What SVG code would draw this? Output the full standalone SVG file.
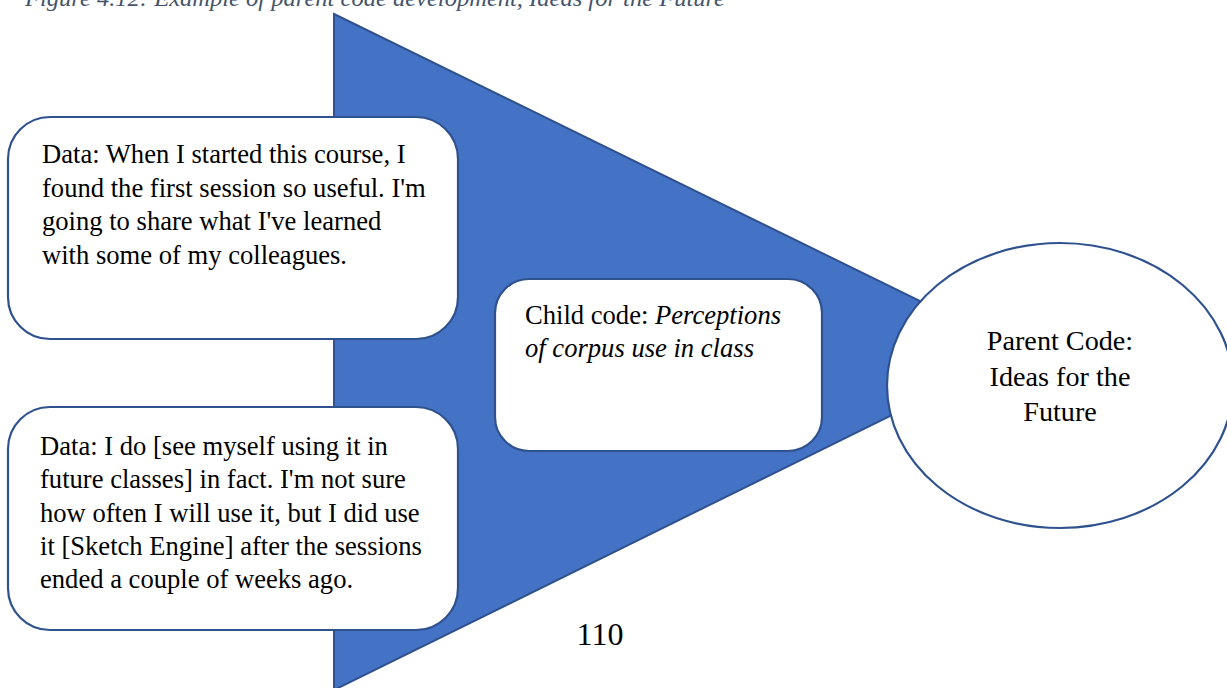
<svg xmlns="http://www.w3.org/2000/svg" width="1227" height="688" viewBox="0 0 1227 688">
<style>
.shape{fill:#4472C4;stroke:#2F528F;stroke-width:2}
.box{fill:#FFFFFF;stroke:#2F528F;stroke-width:2.2}
.txt{font-size:26.6px;fill:#000000}
.ptxt{font-size:28.2px;fill:#000000}
.cap{font-size:24px;font-style:italic;fill:#44546A}
</style>
<rect width="1227" height="688" fill="#FFFFFF"/>
<g font-family="'Liberation Serif', 'Times New Roman', serif">
<text class="cap" x="25" y="6" textLength="700" lengthAdjust="spacingAndGlyphs">Figure 4.12: Example of parent code development, Ideas for the Future</text>
<g id="triangle"><polygon class="shape" points="334,14 1022,351 334,690"/></g>
<g id="data1">
<rect class="box" x="8" y="117" width="450" height="222" rx="42" ry="42"/>
<text class="txt" x="42" y="163">Data: When I started this course, I</text>
<text class="txt" x="42" y="196.5">found the first session so useful. I'm</text>
<text class="txt" x="42" y="230">going to share what I've learned</text>
<text class="txt" x="42" y="263.5">with some of my colleagues.</text>
</g>
<g id="data2">
<rect class="box" x="8" y="407" width="450" height="223" rx="42" ry="42"/>
<text class="txt" x="40" y="455">Data: I do [see myself using it in</text>
<text class="txt" x="40" y="488">future classes] in fact. I'm not sure</text>
<text class="txt" x="40" y="521.5">how often I will use it, but I did use</text>
<text class="txt" x="40" y="555">it [Sketch Engine] after the sessions</text>
<text class="txt" x="40" y="588">ended a couple of weeks ago.</text>
</g>
<g id="child">
<rect class="box" x="495" y="279" width="327" height="172" rx="34" ry="34"/>
<text class="txt" x="525" y="324">Child code: <tspan font-style="italic">Perceptions</tspan></text>
<text class="txt" x="525" y="357" font-style="italic">of corpus use in class</text>
</g>
<g id="parent">
<ellipse class="box" cx="1060" cy="385.5" rx="173" ry="142.5"/>
<text class="ptxt" x="1060" y="350" text-anchor="middle">Parent Code:</text>
<text class="ptxt" x="1060" y="385.5" text-anchor="middle">Ideas for the</text>
<text class="ptxt" x="1060" y="421" text-anchor="middle">Future</text>
</g>
<g id="connectors"></g>
<text x="600" y="645" text-anchor="middle" font-size="32" fill="#000000">110</text>
</g>
</svg>
